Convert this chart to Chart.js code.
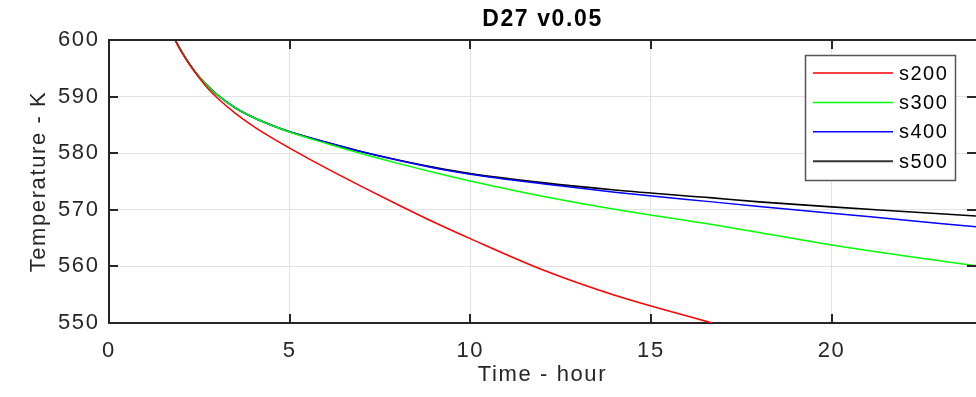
<!DOCTYPE html>
<html>
<head>
<meta charset="utf-8">
<script src="https://cdn.jsdelivr.net/npm/chart.js@4.4.1/dist/chart.umd.min.js"></script>
<style>
  html, body { margin: 0; padding: 0; background: #fff; }
  #wrap { width: 976px; height: 397px; }
</style>
</head>
<body>
<div id="wrap"><canvas id="tempChart" width="976" height="397"></canvas></div>
<script>
var hours = [1.83, 2, 2.25, 2.5, 2.75, 3, 3.5, 4, 4.5, 5, 6, 7, 8, 9, 10, 12, 14, 16.7, 18, 20, 22, 24];
var s200 = [600, 598.0, 595.5, 593.3, 591.35, 589.75, 587.05, 584.75, 582.75, 580.9, 577.4, 574.1, 570.9, 567.8, 564.9, 559.4, 554.9, 550.0, null, null, null, null];
var s300 = [600, 598.05, 595.55, 593.45, 591.75, 590.3, 588.0, 586.3, 584.95, 583.75, 581.75, 579.9, 578.2, 576.6, 575.1, 572.4, 570.1, 567.4, 566.0, 563.8, 561.9, 560.1];
var s400 = [600, 598.05, 595.55, 593.45, 591.75, 590.3, 588.0, 586.3, 584.95, 583.8, 581.95, 580.25, 578.75, 577.4, 576.3, 574.6, 573.1, 571.4, 570.6, 569.4, 568.2, 567.0];
var s500 = [600, 598.05, 595.55, 593.45, 591.75, 590.3, 588.0, 586.3, 584.95, 583.8, 581.95, 580.25, 578.8, 577.5, 576.4, 574.8, 573.5, 572.1, 571.4, 570.5, 569.7, 568.9];
var seriesNames = ['s200', 's300', 's400', 's500'];
var seriesColors = ['#ff0000', '#00ff00', '#0000ff', '#000000'];
var xTicks = [0, 5, 10, 15, 20];
var yTicks = [550, 560, 570, 580, 590, 600];

var FONT = "'Liberation Sans', Arial, sans-serif";
var INK = '#262626';

function toPoints(values) {
    return hours.map(function (h, i) { return { x: h, y: values[i] }; });
}

// espaçamento das letras (texto do original é mais largo que Arial)
var spacingPlugin = {
    id: 'spacing',
    beforeLayout: function (chart) { chart.ctx.letterSpacing = '1.6px'; },
    beforeDraw: function (chart) { chart.ctx.letterSpacing = '1.6px'; }
};

// caixa do eixo: linha de cima e marcas para dentro
var boxPlugin = {
    id: 'box',
    afterDatasetsDraw: function (chart) {
        var ctx = chart.ctx, a = chart.chartArea;
        var x = chart.scales.x, y = chart.scales.y;
        var tl = 9;
        ctx.save();
        ctx.strokeStyle = INK;
        ctx.lineWidth = 2;
        ctx.beginPath();
        ctx.moveTo(a.left - 1, a.top);
        ctx.lineTo(a.right, a.top);
        xTicks.forEach(function (v) {
            var px = Math.round(x.getPixelForValue(v));
            ctx.moveTo(px, a.bottom); ctx.lineTo(px, a.bottom - tl);
            ctx.moveTo(px, a.top); ctx.lineTo(px, a.top + tl);
        });
        yTicks.forEach(function (v) {
            var py = Math.round(y.getPixelForValue(v));
            ctx.moveTo(a.left, py); ctx.lineTo(a.left + tl, py);
            ctx.moveTo(a.right, py); ctx.lineTo(a.right - tl, py);
        });
        ctx.stroke();
        ctx.restore();
    }
};

// legenda dentro da área do gráfico
var legendPlugin = {
    id: 'boxLegend',
    afterDraw: function (chart) {
        var ctx = chart.ctx, a = chart.chartArea;
        var w = 150, h = 125, rowH = 29.4;
        var bx = a.right - 21 - w, by = a.top + 15;
        ctx.save();
        ctx.letterSpacing = '1.5px';
        ctx.fillStyle = '#ffffff';
        ctx.fillRect(bx, by, w, h);
        ctx.strokeStyle = '#555555';
        ctx.lineWidth = 1.5;
        ctx.strokeRect(bx + 0.5, by + 0.5, w, h);
        ctx.font = '20px ' + FONT;
        ctx.textBaseline = 'middle';
        chart.data.datasets.forEach(function (ds, i) {
            var ry = by + 18 + i * rowH;
            ctx.strokeStyle = i === 3 ? '#333333' : ds.borderColor;
            ctx.lineWidth = i === 3 ? 2 : 1.5;
            ctx.beginPath();
            ctx.moveTo(bx + 8, ry);
            ctx.lineTo(bx + 88, ry);
            ctx.stroke();
            ctx.fillStyle = '#000000';
            ctx.fillText(ds.label, bx + 94, ry + 1);
        });
        ctx.restore();
    }
};

document.addEventListener("DOMContentLoaded", function () {
    var datasets = [s200, s300, s400, s500].map(function (vals, i) {
        return {
            label: seriesNames[i],
            data: toPoints(vals),
            borderColor: seriesColors[i],
            backgroundColor: seriesColors[i],
            borderWidth: i === 3 ? 1.7 : 1.5,
            pointRadius: 0,
            cubicInterpolationMode: 'monotone',
            spanGaps: false
        };
    });

    var ctx = document.getElementById('tempChart').getContext('2d');
    var chart = new Chart(ctx, {
        type: 'line',
        data: { datasets: datasets },
        options: {
            responsive: false,
            animation: false,
            layout: { padding: { left: 0, right: 0, top: 0, bottom: 0 } },
            plugins: {
                legend: { display: false },
                tooltip: { enabled: false },
                title: {
                    display: true,
                    fullSize: false,
                    text: 'D27 v0.05',
                    color: '#000000',
                    font: { family: FONT, size: 23, weight: 'bold' },
                    padding: { top: 5.5, bottom: 6.9 }
                }
            },
            scales: {
                x: {
                    type: 'linear',
                    min: 0,
                    max: 24,
                    afterFit: function (s) { s.height = 74; },
                    afterBuildTicks: function (s) { s.ticks = xTicks.map(function (v) { return { value: v }; }); },
                    ticks: {
                        includeBounds: false,
                        color: INK,
                        padding: 15,
                        maxRotation: 0,
                        font: { family: FONT, size: 22 }
                    },
                    grid: { color: '#e3e3e3', lineWidth: 1, drawTicks: false },
                    border: { color: INK, width: 2 },
                    title: {
                        display: true,
                        text: 'Time - hour',
                        color: INK,
                        font: { family: FONT, size: 22 },
                        padding: { top: 0, bottom: 8.8 }
                    }
                },
                y: {
                    min: 550,
                    max: 600,
                    afterFit: function (s) { s.width = 109; },
                    afterBuildTicks: function (s) { s.ticks = yTicks.map(function (v) { return { value: v }; }); },
                    ticks: {
                        color: INK,
                        padding: 9.5,
                        font: { family: FONT, size: 22 }
                    },
                    grid: { color: '#e3e3e3', lineWidth: 1, drawTicks: false },
                    border: { color: INK, width: 2 },
                    title: {
                        display: true,
                        text: 'Temperature - K',
                        color: INK,
                        font: { family: FONT, size: 22 },
                        padding: { top: 25.6, bottom: 0 }
                    }
                }
            }
        },
        plugins: [spacingPlugin, boxPlugin, legendPlugin]
    });
});
</script>
</body>
</html>
